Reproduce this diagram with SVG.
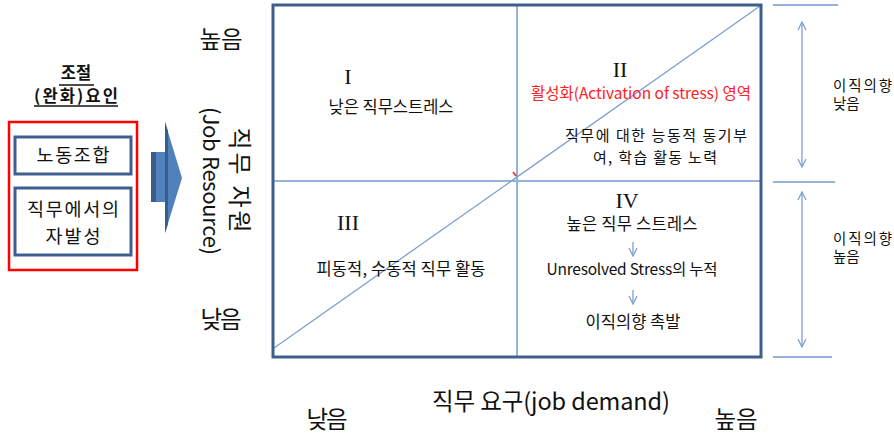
<svg xmlns="http://www.w3.org/2000/svg" width="894" height="434" viewBox="0 0 894 434">
<style>
text{font-family:"Noto Sans CJK KR","Malgun Gothic","Noto Sans",sans-serif;fill:#111}
.ax{font-size:23.5px}
.q{font-size:16.5px}
.q2{font-size:15px}
.qe{font-size:15.5px}
.r{font-size:14.5px}
.lb{font-size:18.5px}
.rn{font-family:"Liberation Serif","DejaVu Serif",serif;font-size:22px;fill:#111}
.box{fill:#fff;stroke:#3f5f8f;stroke-width:3}
.grid{stroke:#95b3d7;stroke-width:2;fill:none}
.thin{stroke:#7fa0cf;stroke-width:1.3;fill:none}
</style>
<defs>
<marker id="v" viewBox="0 0 10 10" refX="9" refY="5" markerWidth="10" markerHeight="10" markerUnits="userSpaceOnUse" orient="auto-start-reverse">
<path d="M1,1 L9,5 L1,9" fill="none" stroke="#7fa0cf" stroke-width="1.3"/>
</marker>
</defs>

<g id="factors">
<text x="76" y="79" text-anchor="middle" font-size="16.5" font-weight="bold">조절</text>
<line x1="59" y1="85" x2="94" y2="85" stroke="#111" stroke-width="1.3"/>
<text x="76" y="102" text-anchor="middle" font-size="16.5" font-weight="bold" textLength="84">(완화)요인</text>
<line x1="34" y1="106" x2="118" y2="106" stroke="#111" stroke-width="1.3"/>
<rect x="9" y="122" width="128" height="148" fill="none" stroke="#ff0000" stroke-width="2.5"/>
</g>
<g id="union">
<rect class="box" x="15" y="137" width="116" height="37"/>
<text class="lb" x="73" y="162" text-anchor="middle" textLength="73">노동조합</text>
</g>
<g id="voluntary">
<rect class="box" x="15" y="188" width="116" height="67"/>
<text class="lb" x="73" y="216" text-anchor="middle" textLength="92">직무에서의</text>
<text class="lb" x="73" y="243" text-anchor="middle" textLength="55">자발성</text>
</g>
<g id="bigarrow">
<rect x="151" y="152" width="15" height="50" fill="#4f81bd"/>
<rect x="151" y="152" width="5" height="50" fill="#385d8a"/>
<polygon points="165,122 182,178 165,233" fill="#4f81bd"/>
<polygon points="165,122 168,131 168,224 165,233" fill="#385d8a"/>
</g>

<g id="yaxis">
<text class="ax" x="221" y="48" text-anchor="middle" textLength="43">높음</text>
<text class="ax" x="221" y="328" text-anchor="middle" textLength="41">낮음</text>
<text class="ax" transform="translate(231,180) rotate(90)" text-anchor="middle" style="font-size:24px" textLength="105">직무 자원</text>
<text class="ax" transform="translate(203,181) rotate(90)" text-anchor="middle" style="font-size:22px" textLength="148">(Job Resource)</text>
</g>
<g id="xaxis">
<text class="ax" x="327" y="428" text-anchor="middle" textLength="41">낮음</text>
<text class="ax" x="551" y="410" text-anchor="middle" textLength="238">직무 요구(job demand)</text>
<text class="ax" x="736" y="428" text-anchor="middle" textLength="43">높음</text>
</g>

<g id="connectors">
<line class="grid" x1="517" y1="6" x2="517" y2="356"/>
<line class="grid" x1="274" y1="181" x2="760" y2="181"/>
<line class="thin" x1="274" y1="348" x2="760" y2="6"/>
<line x1="513" y1="172" x2="516" y2="176" stroke="#ff2020" stroke-width="1.5"/>
<line class="grid" x1="773" y1="5" x2="838" y2="5"/>
<line class="grid" x1="773" y1="182" x2="835" y2="182"/>
<line class="grid" x1="773" y1="357" x2="832" y2="357"/>
<line class="thin" x1="802" y1="22" x2="802" y2="167" marker-start="url(#v)" marker-end="url(#v)"/>
<line class="thin" x1="802" y1="192" x2="802" y2="347" marker-start="url(#v)" marker-end="url(#v)"/>
<line class="thin" x1="633" y1="242" x2="633" y2="256" marker-end="url(#v)"/>
<line class="thin" x1="633" y1="290" x2="633" y2="304" marker-end="url(#v)"/>
<rect x="273" y="5" width="488" height="352" fill="none" stroke="#3e5f8a" stroke-width="3"/>
</g>

<g id="q1">
<text class="rn" x="348" y="84" text-anchor="middle">I</text>
<text class="q" x="391" y="113" text-anchor="middle" textLength="125">낮은 직무스트레스</text>
</g>
<g id="q2">
<text class="rn" x="620" y="77" text-anchor="middle">II</text>
<text class="qe" x="641" y="99" text-anchor="middle" style="fill:#ff2020" textLength="220">활성화(Activation of stress) 영역</text>
<text class="q2" x="656" y="141" text-anchor="middle" textLength="182">직무에 대한 능동적 동기부</text>
<text class="q2" x="655" y="163" text-anchor="middle" textLength="124">여, 학습 활동 노력</text>
</g>
<g id="q3">
<text class="rn" x="348" y="230" text-anchor="middle">III</text>
<text class="q" x="401" y="275" text-anchor="middle" textLength="169">피동적, 수동적 직무 활동</text>
</g>
<g id="q4">
<text class="rn" x="627" y="208" text-anchor="middle">IV</text>
<text class="q" x="632" y="230" text-anchor="middle" textLength="131">높은 직무 스트레스</text>
<text class="qe" x="632" y="275" text-anchor="middle" textLength="171">Unresolved Stress의 누적</text>
<text class="q" x="633" y="328" text-anchor="middle" textLength="95">이직의향 촉발</text>
</g>
<g id="turnover">
<text class="r" x="833" y="91" textLength="59">이직의향</text>
<text class="r" x="833" y="109">낮음</text>
<text class="r" x="833" y="244" textLength="59">이직의향</text>
<text class="r" x="833" y="262">높음</text>
</g>
</svg>
